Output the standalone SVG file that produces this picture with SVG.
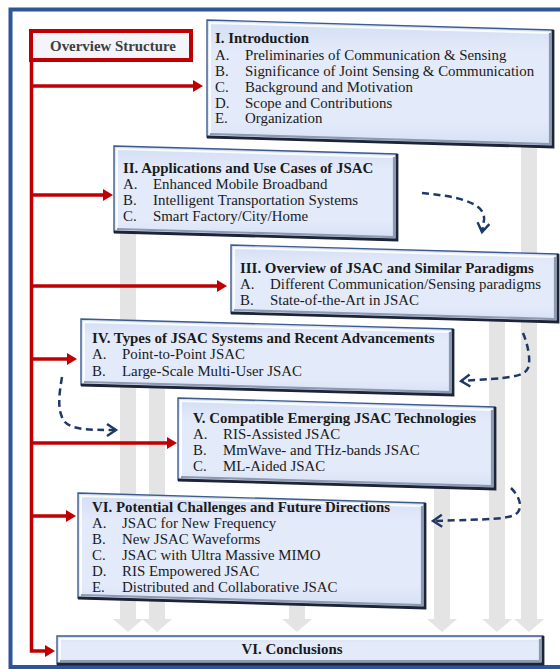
<svg xmlns="http://www.w3.org/2000/svg" width="560" height="669" viewBox="0 0 560 669">
<style>
  text { font-family: "Liberation Serif", "Times New Roman", serif; font-size: 14.9px; fill: #1a1a1a; }
  .t { font-weight: bold; }
  .box { fill: url(#bg); stroke: #3d5b8c; stroke-width: 1.4; }
  .hi { fill: none; stroke: #ffffff; stroke-width: 2; stroke-opacity: 0.85; }
  .sh { fill: none; stroke: #8e9ab0; stroke-width: 2.2; }
  .dk { fill: none; stroke: #1b2438; stroke-width: 2.8; }
  .gray { fill: #e4e4e4; }
  .red { fill: none; stroke: #c00000; stroke-width: 3.5; }
  .dash { fill: none; stroke: #1f3864; stroke-width: 2.5; stroke-dasharray: 7 4.5; }
</style>
<defs>
  <linearGradient id="bg" x1="0" y1="0" x2="0" y2="1">
    <stop offset="0" stop-color="#d3def3"/>
    <stop offset="0.25" stop-color="#e3eafa"/>
    <stop offset="0.8" stop-color="#e3eafa"/>
    <stop offset="1" stop-color="#d6e0f4"/>
  </linearGradient>
  <marker id="ra" markerUnits="userSpaceOnUse" markerWidth="12" markerHeight="12" refX="0" refY="6" orient="auto" overflow="visible">
    <path d="M0,0 L10,6 L0,12 Z" fill="#c00000"/>
  </marker>
  <marker id="da" markerUnits="userSpaceOnUse" markerWidth="14" markerHeight="14" refX="9" refY="6" orient="auto" overflow="visible">
    <path d="M0,0 L9,6 L0,12" fill="none" stroke="#1f3864" stroke-width="2.4"/>
  </marker>
</defs>
<rect x="0" y="0" width="560" height="669" fill="#ffffff"/>
<rect x="10.5" y="9.5" width="560" height="657.5" fill="none" stroke="#2f5597" stroke-width="4"/>

<g id="connectors">
  <polygon class="gray" points="120,232 136,232 136,619 143,619 128,632 113,619 120,619"/>
  <polygon class="gray" points="149,388 165,388 165,619 172,619 157,632 142,619 149,619"/>
  <polygon class="gray" points="289,600 305,600 305,619 312,619 297,632 282,619 289,619"/>
  <polygon class="gray" points="434,485 450,485 450,619 457,619 442,632 427,619 434,619"/>
  <polygon class="gray" points="489,315 505,315 505,619 512,619 497,632 482,619 489,619"/>
  <polygon class="gray" points="521,142 537,142 537,619 544,619 529,632 514,619 521,619"/>
  <path class="red" d="M31.5,62 V651 H45" marker-end="url(#ra)"/>
  <path class="red" d="M31.5,86 H193" marker-end="url(#ra)"/>
  <path class="red" d="M31.5,195 H103" marker-end="url(#ra)"/>
  <path class="red" d="M31.5,286 H217" marker-end="url(#ra)"/>
  <path class="red" d="M31.5,359 H67" marker-end="url(#ra)"/>
  <path class="red" d="M31.5,443 H167" marker-end="url(#ra)"/>
  <path class="red" d="M31.5,516 H66" marker-end="url(#ra)"/>
  <path class="dash" d="M422,193 C452,196 486,201 484,220 L482,232" marker-end="url(#da)"/>
  <path class="dash" d="M523,333 C528,345 531,360 528,368 C524,377 510,378 461,381" marker-end="url(#da)"/>
  <path class="dash" d="M62,377 C59,395 57,410 64,421 C71,430 90,430 116,430" marker-end="url(#da)"/>
  <path class="dash" d="M511,488 C518,495 523,505 518,512 C512,520 490,519 433,521" marker-end="url(#da)"/>
</g>

<g id="overview">
  <rect x="31" y="31" width="160" height="29" fill="#f3f5fb" stroke="#c00000" stroke-width="4"/>
  <text class="t" x="113" y="50.5" text-anchor="middle" style="fill:#3f3f3f">Overview Structure</text>
</g>

<g id="n1">
  <polygon class="box" points="207,20 553,30 553,147 207,137"/>
  <polyline class="hi" points="210,134 210,23 550,33"/>
  <polyline class="sh" points="550,33 550,144 210,134"/>
  <polyline class="dk" points="553,30 553,147 207,137"/>
  <text class="t" x="215" y="43">I. Introduction</text>
  <text x="215" y="60">A.</text><text x="245" y="60">Preliminaries of Communication &amp; Sensing</text>
  <text x="215" y="76">B.</text><text x="245" y="76">Significance of Joint Sensing &amp; Communication</text>
  <text x="215" y="92">C.</text><text x="245" y="92">Background and Motivation</text>
  <text x="215" y="107.5">D.</text><text x="245" y="107.5">Scope and Contributions</text>
  <text x="215" y="123">E.</text><text x="245" y="123">Organization</text>
</g>

<g id="n2">
  <polygon class="box" points="114,146 397,154 397,240 114,232"/>
  <polyline class="hi" points="117,229 117,149 394,157"/>
  <polyline class="sh" points="394,157 394,237 117,229"/>
  <polyline class="dk" points="397,154 397,240 114,232"/>
  <text class="t" x="123" y="173">II. Applications and Use Cases of JSAC</text>
  <text x="123" y="189">A.</text><text x="153" y="189">Enhanced Mobile Broadband</text>
  <text x="123" y="205">B.</text><text x="153" y="205">Intelligent Transportation Systems</text>
  <text x="123" y="221">C.</text><text x="153" y="221">Smart Factory/City/Home</text>
</g>

<g id="n3">
  <polygon class="box" points="231,245 558,254 558,322 231,313"/>
  <polyline class="hi" points="234,310 234,248 555,257"/>
  <polyline class="sh" points="555,257 555,319 234,310"/>
  <polyline class="dk" points="558,254 558,322 231,313"/>
  <text class="t" x="240" y="273">III. Overview of JSAC and Similar Paradigms</text>
  <text x="240" y="289">A.</text><text x="270" y="289">Different Communication/Sensing paradigms</text>
  <text x="240" y="305">B.</text><text x="270" y="305">State-of-the-Art in JSAC</text>
</g>

<g id="n4">
  <polygon class="box" points="81,319 453,329 453,395 81,385"/>
  <polyline class="hi" points="84,382 84,322 450,332"/>
  <polyline class="sh" points="450,332 450,392 84,382"/>
  <polyline class="dk" points="453,329 453,395 81,385"/>
  <text class="t" x="92" y="343">IV. Types of JSAC Systems and Recent Advancements</text>
  <text x="92" y="359">A.</text><text x="122" y="359">Point-to-Point JSAC</text>
  <text x="92" y="375.5">B.</text><text x="122" y="375.5">Large-Scale Multi-User JSAC</text>
</g>

<g id="n5">
  <polygon class="box" points="178,398 495,407 495,489 178,480"/>
  <polyline class="hi" points="181,477 181,401 492,410"/>
  <polyline class="sh" points="492,410 492,486 181,477"/>
  <polyline class="dk" points="495,407 495,489 178,480"/>
  <text class="t" x="193" y="423">V. Compatible Emerging JSAC Technologies</text>
  <text x="193" y="439">A.</text><text x="223" y="439">RIS-Assisted JSAC</text>
  <text x="193" y="455">B.</text><text x="223" y="455">MmWave- and THz-bands JSAC</text>
  <text x="193" y="471">C.</text><text x="223" y="471">ML-Aided JSAC</text>
</g>

<g id="n6">
  <polygon class="box" points="78,493 425,503 425,608 78,598"/>
  <polyline class="hi" points="81,595 81,496 422,506"/>
  <polyline class="sh" points="422,506 422,605 81,595"/>
  <polyline class="dk" points="425,503 425,608 78,598"/>
  <text class="t" x="92" y="512">VI. Potential Challenges and Future Directions</text>
  <text x="92" y="528">A.</text><text x="122" y="528">JSAC for New Frequency</text>
  <text x="92" y="544">B.</text><text x="122" y="544">New JSAC Waveforms</text>
  <text x="92" y="560">C.</text><text x="122" y="560">JSAC with Ultra Massive MIMO</text>
  <text x="92" y="576">D.</text><text x="122" y="576">RIS Empowered JSAC</text>
  <text x="92" y="592">E.</text><text x="122" y="592">Distributed and Collaborative JSAC</text>
</g>

<g id="n7">
  <polygon class="box" points="57,636 543,636 543,664 57,664"/>
  <polyline class="hi" points="60,661 60,639 540,639"/>
  <polyline class="sh" points="540,639 540,661 60,661"/>
  <polyline class="dk" points="543,636 543,664 57,664"/>
  <text class="t" x="292" y="654" text-anchor="middle">VI. Conclusions</text>
</g>
</svg>
